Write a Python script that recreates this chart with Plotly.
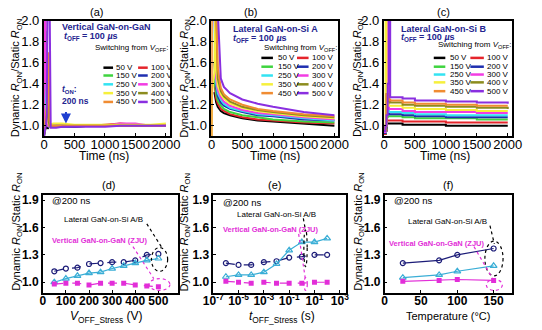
import plotly.graph_objects as go

FONT = "Liberation Sans, Arial, sans-serif"
W, H = 542, 330
def px(x): return x / W
def py(y): return 1 - y / H

volt_labels = ["50 V", "100 V", "150 V", "200 V", "250 V", "300 V", "350 V", "400 V", "450 V", "500 V"]
volt_colors = ["#000000", "#e5242b", "#3fd43f", "#1f2fb0", "#33e3f2", "#f23ce3", "#f6f03c", "#8c8c1e", "#f08c32", "#8a2fe0"]

# ---------- (a) Vertical GaN-on-GaN ----------
time_a = [0, 15, 30, 45, 60, 75, 90, 110, 150, 200, 300, 500, 750, 1000, 1250, 1500, 1750, 2000]
a_50  = [0.90, 0.94, 1.00, 1.04, 0.97, 0.98, 1.00, 1.00, 0.99, 1.00, 1.00, 0.99, 1.00, 1.00, 1.00, 1.00, 1.00, 1.00]
a_100 = [0.93, 2.30, 1.50, 1.05, 1.00, 0.99, 0.99, 1.00, 1.00, 1.00, 1.00, 1.00, 1.00, 1.01, 1.02, 1.01, 1.00, 1.00]
a_150 = [0.92, 1.05, 1.90, 1.10, 1.00, 0.99, 1.00, 1.00, 1.00, 1.00, 1.00, 1.00, 1.00, 1.00, 1.00, 1.00, 1.00, 1.00]
a_200 = [0.92, 1.00, 1.10, 1.25, 1.02, 0.99, 0.99, 0.99, 0.99, 0.99, 0.99, 0.99, 1.00, 1.00, 1.00, 1.00, 1.00, 1.00]
a_250 = [0.93, 1.00, 1.20, 1.55, 1.05, 1.00, 1.00, 1.00, 1.00, 1.00, 1.00, 1.00, 1.00, 1.00, 1.00, 1.00, 1.00, 1.00]
a_300 = [0.95, 2.30, 1.60, 1.10, 1.00, 1.00, 0.99, 0.99, 1.00, 1.00, 1.00, 1.00, 1.00, 1.00, 1.02, 1.02, 1.00, 1.01]
a_350 = [0.92, 1.00, 1.05, 1.20, 1.30, 1.02, 1.00, 1.01, 1.02, 1.02, 1.02, 1.01, 1.01, 1.01, 1.01, 1.01, 1.01, 1.02]
a_400 = [0.92, 0.98, 1.00, 1.10, 1.40, 1.05, 1.00, 1.00, 1.00, 1.00, 1.00, 1.00, 1.00, 1.00, 1.00, 1.00, 1.00, 1.00]
a_450 = [0.93, 1.00, 1.05, 1.15, 1.25, 1.70, 1.05, 1.00, 1.00, 1.00, 1.00, 1.00, 1.00, 1.00, 1.00, 1.00, 1.00, 1.00]
a_500 = [0.90, 0.95, 1.00, 1.10, 2.30, 2.30, 2.30, 0.98, 0.98, 0.98, 0.99, 0.99, 0.99, 0.99, 1.00, 1.00, 1.00, 1.00]
t_on_marker = 360

# ---------- (b) Lateral GaN-on-Si A ----------
time_b = [0, 5, 45, 60, 75, 100, 150, 200, 300, 500, 750, 1000, 1500, 2000]
b_50  = [None, None, 1.32, 1.25, 1.22, 1.18, 1.14, 1.12, 1.10, 1.07, 1.05, 1.04, 1.02, 1.00]
b_100 = [None, None, 1.40, 1.30, 1.26, 1.21, 1.16, 1.14, 1.11, 1.08, 1.06, 1.05, 1.03, 1.02]
b_150 = [None, None, 1.45, 1.35, 1.30, 1.24, 1.19, 1.16, 1.13, 1.10, 1.08, 1.06, 1.04, 1.03]
b_200 = [None, None, 1.60, 1.42, 1.36, 1.28, 1.22, 1.19, 1.16, 1.13, 1.10, 1.09, 1.06, 1.05]
b_250 = [None, None, 2.10, 1.50, 1.40, 1.31, 1.25, 1.21, 1.17, 1.14, 1.11, 1.10, 1.07, 1.05]
b_300 = [None, None, 2.10, 1.60, 1.45, 1.34, 1.27, 1.23, 1.19, 1.15, 1.12, 1.11, 1.08, 1.06]
b_350 = [0.90, 1.30, 1.50, 2.10, 1.55, 1.38, 1.30, 1.26, 1.21, 1.17, 1.14, 1.12, 1.09, 1.07]
b_400 = [None, None, None, 2.10, 2.10, 1.45, 1.33, 1.28, 1.23, 1.18, 1.15, 1.13, 1.10, 1.08]
b_450 = [0.90, 2.10, 2.10, 2.10, 2.10, 1.55, 1.36, 1.30, 1.25, 1.20, 1.16, 1.14, 1.11, 1.09]
b_500 = [None, None, None, None, 2.10, 2.10, 1.45, 1.37, 1.31, 1.25, 1.21, 1.18, 1.13, 1.10]

# ---------- (c) Lateral GaN-on-Si B ----------
time_c = [0, 25, 40, 60, 80, 100, 300, 500, 1000, 1500, 2000]
c_50  = [0.92, 0.95, 1.02, 1.02, 1.02, 1.02, 1.01, 1.01, 1.00, 1.00, 1.00]
c_100 = [0.92, 0.96, 1.05, 1.05, 1.05, 1.05, 1.04, 1.04, 1.03, 1.03, 1.03]
c_150 = [0.93, 0.97, 1.08, 1.09, 1.09, 1.09, 1.08, 1.07, 1.07, 1.06, 1.06]
c_200 = [0.93, 0.98, 1.12, 1.12, 1.11, 1.11, 1.10, 1.09, 1.08, 1.08, 1.08]
c_250 = [0.94, 1.00, 1.48, 1.15, 1.13, 1.13, 1.12, 1.11, 1.10, 1.10, 1.10]
c_300 = [0.94, 1.00, 1.20, 2.10, 1.16, 1.16, 1.14, 1.13, 1.13, 1.12, 1.12]
c_350 = [0.95, 2.10, 1.30, 1.20, 1.19, 1.19, 1.17, 1.16, 1.15, 1.14, 1.14]
c_400 = [0.95, 1.00, 1.30, 1.25, 1.23, 1.22, 1.20, 1.19, 1.18, 1.17, 1.16]
c_450 = [0.95, 1.00, 1.30, 1.28, 1.25, 1.24, 1.22, 1.21, 1.20, 1.19, 1.19]
c_500 = [0.95, 1.00, 1.10, 1.40, 2.10, 1.27, 1.26, 1.24, 1.23, 1.22, 1.21]

# ---------- (d) vs V_OFF_Stress ----------
v_stress = [50, 100, 150, 200, 250, 300, 350, 400, 450, 500]
d_lat_a = [1.12, 1.15, 1.16, 1.20, 1.21, 1.22, 1.22, 1.24, 1.30, 1.31]
d_lat_b = [1.00, 1.04, 1.07, 1.10, 1.11, 1.15, 1.18, 1.21, 1.24, 1.26]
d_vert  = [0.98, 0.99, 0.99, 0.97, 0.99, 0.99, 0.99, 0.97, 0.96, 0.95]

# ---------- (e) vs t_OFF_Stress ----------
t_stress = [1e-6, 1e-5, 1e-4, 1e-3, 1e-2, 1e-1, 1e0, 1e1, 1e2]
e_lat_a = [1.21, 1.19, 1.19, 1.22, 1.23, 1.27, 1.28, 1.30, 1.30]
e_lat_b = [1.06, 1.08, 1.08, 1.11, 1.20, 1.35, 1.44, 1.44, 1.48]
e_vert  = [1.01, 1.00, 0.99, 1.00, 0.99, 0.99, 0.99, 1.00, 1.00]

# ---------- (f) vs Temperature ----------
temps = [25, 75, 100, 150]
f_lat_a = [1.21, 1.24, 1.30, 1.37]
f_lat_b = [1.05, 1.08, 1.12, 1.18]
f_vert  = [1.01, 1.02, 1.03, 1.02]

top_ticks = [1.0, 1.2, 1.4, 1.6, 1.8, 2.0]
top_ticktext = ["1.0", "1.2", "1.4", "1.6", "1.8", "2.0"]
bot_ticks = [1.0, 1.3, 1.6, 1.9]
bot_ticktext = ["1.0", "1.3", "1.6", "1.9"]
time_ticks = [0, 500, 1000, 1500, 2000]
log_tickvals = [1e-7, 1e-5, 1e-3, 1e-1, 1e1, 1e3]
log_ticktext = ["10<sup>-7</sup>", "10<sup>-5</sup>", "10<sup>-3</sup>", "10<sup>-1</sup>", "10<sup>1</sup>", "10<sup>3</sup>"]

NAVY = "#1c1c78"
CYAN = "#3aaed6"
MAG = "#e22ed8"
TXTBLUE = "#23238f"

fig = go.Figure()

top_sets = [
    ("x", "y", time_a, [a_50, a_100, a_150, a_200, a_250, a_300, a_350, a_400, a_450, a_500], "linear"),
    ("x2", "y2", time_b, [b_50, b_100, b_150, b_200, b_250, b_300, b_350, b_400, b_450, b_500], "linear"),
    ("x3", "y3", time_c, [c_50, c_100, c_150, c_200, c_250, c_300, c_350, c_400, c_450, c_500], "hv"),
]
for xa, ya, tt, series, shape in top_sets:
    for lab, col, vals in zip(volt_labels, volt_colors, series):
        fig.add_trace(go.Scatter(x=tt, y=vals, mode="lines", xaxis=xa, yaxis=ya, name=lab,
                                 line=dict(color=col, width=2, shape=shape), showlegend=False,
                                 connectgaps=False))

bot_sets = [
    ("x4", "y4", v_stress, d_lat_a, d_lat_b, d_vert, "dash", "solid", "dash"),
    ("x5", "y5", t_stress, e_lat_a, e_lat_b, e_vert, "dash", "solid", "dash"),
    ("x6", "y6", temps, f_lat_a, f_lat_b, f_vert, "solid", "solid", "solid"),
]
for xa, ya, xs, la, lb, vv, da, db, dv in bot_sets:
    fig.add_trace(go.Scatter(x=xs, y=la, xaxis=xa, yaxis=ya, mode="lines+markers", showlegend=False,
                             line=dict(color=NAVY, width=1.2, dash=da),
                             marker=dict(symbol="circle-open", size=5, color=NAVY, line=dict(width=1.2))))
    fig.add_trace(go.Scatter(x=xs, y=lb, xaxis=xa, yaxis=ya, mode="lines+markers", showlegend=False,
                             line=dict(color=CYAN, width=1.2, dash=db),
                             marker=dict(symbol="triangle-up-open", size=6, color=CYAN, line=dict(width=1.2))))
    fig.add_trace(go.Scatter(x=xs, y=vv, xaxis=xa, yaxis=ya, mode="lines+markers", showlegend=False,
                             line=dict(color=MAG, width=1.2, dash=dv),
                             marker=dict(symbol="square", size=5, color=MAG)))

TOPFONT = dict(family=FONT, size=13, color="black")
BOTFONT = dict(family=FONT, size=12, color="black", weight="bold")

def axis_common(**kw):
    d = dict(showline=True, mirror=True, linecolor="black", linewidth=1.5, ticks="inside", ticklen=3,
             tickcolor="black", showgrid=False, zeroline=False, tickangle=0, tickfont=TOPFONT,
             showticklabels=True, ticklabelposition="outside", tickmode="array")
    d.update(kw)
    return d

top_y = (py(132), py(14))
bot_y = (py(292), py(192))
layout = dict(
    width=W, height=H, margin=dict(l=0, r=0, t=0, b=0),
    paper_bgcolor="white", plot_bgcolor="white", showlegend=False,
    xaxis=axis_common(domain=[px(35), px(166)], anchor="y", range=[-5, 2065], tickvals=time_ticks, ticklabelstandoff=-5),
    yaxis=axis_common(domain=top_y, anchor="x", range=[0.9, 2.0], tickvals=top_ticks, ticktext=top_ticktext),
    xaxis2=axis_common(domain=[px(209), px(341)], anchor="y2", range=[-5, 2065], tickvals=time_ticks, ticklabelstandoff=-5),
    yaxis2=axis_common(domain=top_y, anchor="x2", range=[0.9, 2.0], tickvals=top_ticks, ticktext=top_ticktext),
    xaxis3=axis_common(domain=[px(388), px(521)], anchor="y3", range=[-5, 2065], tickvals=time_ticks, ticklabelstandoff=-5),
    yaxis3=axis_common(domain=top_y, anchor="x3", range=[0.9, 2.0], tickvals=top_ticks, ticktext=top_ticktext),
    xaxis4=axis_common(domain=[px(34), px(174)], anchor="y4", range=[0, 583], tickvals=[0, 100, 200, 300, 400, 500],
                       tickfont=BOTFONT, ticklabelstandoff=-4),
    yaxis4=axis_common(domain=bot_y, anchor="x4", range=[0.884, 1.957], tickvals=bot_ticks, ticktext=bot_ticktext,
                       tickfont=BOTFONT),
    xaxis5=axis_common(domain=[px(211), px(349)], anchor="y5", type="log", range=[-7, 3.5],
                       tickvals=log_tickvals, ticktext=log_ticktext, tickfont=BOTFONT, ticklabelstandoff=-4),
    yaxis5=axis_common(domain=bot_y, anchor="x5", range=[0.884, 1.957], tickvals=bot_ticks, ticktext=bot_ticktext,
                       tickfont=BOTFONT),
    xaxis6=axis_common(domain=[px(389), px(521)], anchor="y6", range=[0, 175], tickvals=[0, 50, 100, 150],
                       tickfont=BOTFONT, ticklabelstandoff=-4),
    yaxis6=axis_common(domain=bot_y, anchor="x6", range=[0.884, 1.957], tickvals=bot_ticks, ticktext=bot_ticktext,
                       tickfont=BOTFONT),
)
fig.update_layout(**layout)

anns = []
def ann(text, x, y, size, color="black", xanchor="left", angle=0, bold=False):
    f = dict(size=size, color=color, family=FONT)
    if bold:
        f["weight"] = "bold"
    anns.append(dict(text=text, x=px(x), y=py(y), xref="paper", yref="paper", showarrow=False,
                     font=f, xanchor=xanchor, yanchor="middle", textangle=angle, borderpad=0))

ytitle = "Dynamic <i>R</i><sub>ON</sub>/Static <i>R</i><sub>ON</sub>"
for xx in (7, 182, 362):
    ann(ytitle, xx, 73, 11, xanchor="center", angle=-90)
    ann(ytitle, xx, 230, 11, xanchor="center", angle=-90)
for xx in (98, 275, 452):
    ann("Time (ns)", xx, 152, 12, xanchor="center")
ann("<i>V</i><sub>OFF_Stress</sub> (V)", 100, 317, 12, xanchor="center")
ann("<i>t</i><sub>OFF_Stress</sub> (s)", 282, 317, 12, xanchor="center")
ann("Temperature (°C)", 455, 316, 11, xanchor="center")
for lab, xx, yy in (("(a)", 90, 5), ("(b)", 250, 5), ("(c)", 450, 5),
                    ("(d)", 102, 182), ("(e)", 275, 182), ("(f)", 455, 182)):
    ann(lab, xx, yy, 11, xanchor="center")

# top panel titles
ann("Vertical GaN-on-GaN", 53, 20, 9, TXTBLUE, bold=True)
ann("<i>t</i><sub>OFF</sub> = 100 <i>µ</i>s", 55, 30, 9, TXTBLUE, bold=True)
ann("Lateral GaN-on-Si A", 230, 22, 9, TXTBLUE, bold=True)
ann("<i>t</i><sub>OFF</sub> = 100 <i>µ</i>s", 230, 32, 9, TXTBLUE, bold=True)
ann("Lateral GaN-on-Si B", 405, 22, 9, TXTBLUE, bold=True)
ann("<i>t</i><sub>OFF</sub> = 100 <i>µ</i>s", 405, 31, 9, TXTBLUE, bold=True)
ann("<i>t</i><sub>ON</sub>:", 53, 84, 8.5, TXTBLUE, bold=True)
ann("200 ns", 53, 96, 8.5, TXTBLUE, bold=True)

shapes = []
# legends in top panels
legend_specs = [
    (165, 42, [62, 70, 79, 88, 97], (97, 107, 109), (133, 143, 145)),
    (341, 42, [52, 61, 70, 79, 88], (261, 273, 277), (298, 310, 313)),
    (521, 39, [52, 61, 69, 77, 86], (440, 452, 456), (478, 492, 494)),
]
for hx, hy, rows, c1, c2 in legend_specs:
    ann("Switching from <i>V</i><sub>OFF</sub>:", hx, hy, 8, xanchor="right")
    for i, (lab, col) in enumerate(zip(volt_labels, volt_colors)):
        r = i // 2
        cx = c1 if i % 2 == 0 else c2
        yy = rows[r]
        shapes.append(dict(type="line", xref="paper", yref="paper", x0=px(cx[0]), x1=px(cx[1]),
                           y0=py(yy), y1=py(yy), line=dict(color=col, width=2.5)))
        ann(lab, cx[2], yy, 8)

# t_ON arrow in (a)
anns.append(dict(x=t_on_marker, y=1.02, xref="x", yref="y", ax=0, ay=-13, axref="pixel", ayref="pixel",
                 text="", showarrow=True, arrowhead=2, arrowsize=1, arrowwidth=2, arrowcolor="#1f3fd0"))

# bottom panel labels
for xx, yy, lx, ly, vx, vy in ((43, 198, 55, 217, 43, 239), (220, 200, 235, 212, 220, 227), (398, 198, 412, 219, 392, 242)):
    ann("@200 ns", xx, yy, 9.5)
    ann("Lateral GaN-on-Si A/B", lx, ly, 8)
    ann("Vertical GaN-on-GaN (ZJU)", vx, vy, 7.5, MAG, bold=True)

def ell(xr, yr, x0, x1, y0, y1, col):
    shapes.append(dict(type="circle", xref=xr, yref=yr, x0=x0, x1=x1, y0=y0, y1=y1,
                       line=dict(color=col, width=1.2, dash="dot")))
def dline(xr, yr, x0, y0, x1, y1, col):
    shapes.append(dict(type="line", xref=xr, yref=yr, x0=x0, x1=x1, y0=y0, y1=y1,
                       line=dict(color=col, width=1.2, dash="dot")))

ell("x4", "y4", 470, 540, 1.12, 1.38, "black")
ell("x4", "y4", 460, 550, 0.91, 1.04, MAG)
dline("x4", "y4", 450, 1.64, 515, 1.38, "black")
dline("x4", "y4", 390, 1.39, 480, 1.04, MAG)

ell("x5", "y5", 1.45, 2.65, 1.17, 1.58, "black")
ell("x5", "y5", 1.5, 2.7, 0.91, 1.05, MAG)
dline("x5", "y5", 1.32, 1.70, 2.0, 1.56, "black")
dline("x5", "y5", 0.56, 1.53, 1.93, 1.03, MAG)

ell("x6", "y6", 138, 163, 1.07, 1.45, "black")
ell("x6", "y6", 140, 162, 0.91, 1.03, MAG)
dline("x6", "y6", 145, 1.62, 151, 1.42, "black")
dline("x6", "y6", 123, 1.39, 150, 1.02, MAG)

fig.update_layout(annotations=anns, shapes=shapes)
fig.write_html("out.html")
